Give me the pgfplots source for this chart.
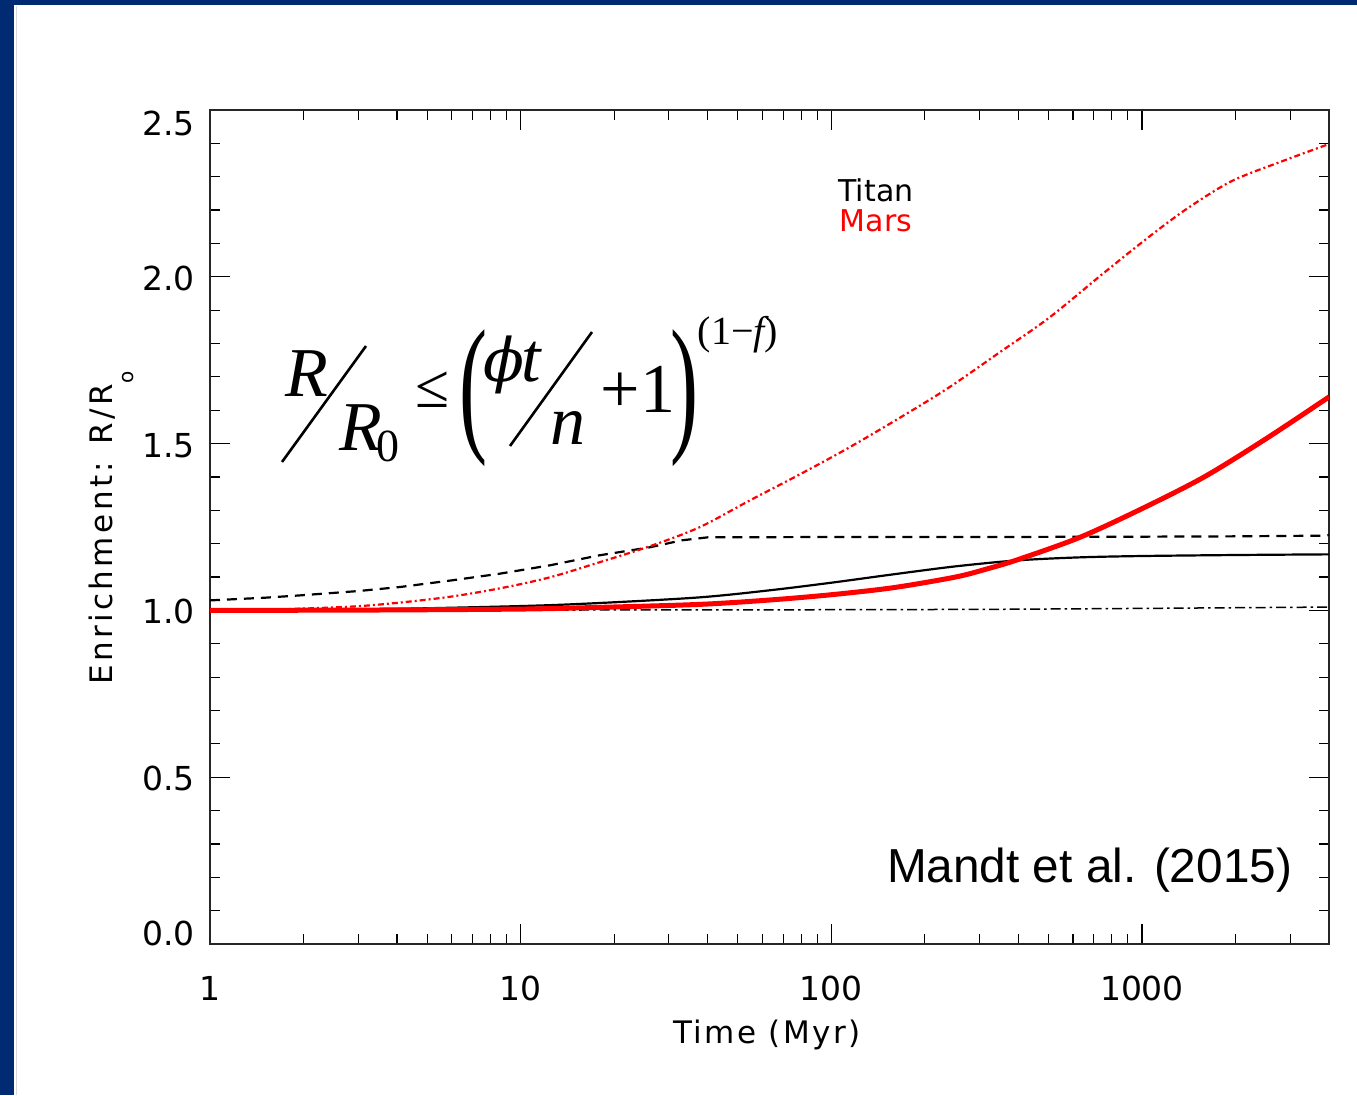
\documentclass[border=0pt]{standalone}
\usepackage{fontspec}
\setmainfont{DejaVu Sans}
\newfontfamily\timesfont{Liberation Serif}
\newfontfamily\arialfont{Liberation Sans}
\newfontfamily\greekfont{DejaVu Serif}
\newfontfamily\idlwide{DejaVu Sans}[LetterSpace=8]
\newfontfamily\idlwider{DejaVu Sans}[LetterSpace=11]
\usepackage{graphicx}
\usepackage{pgfplots}
\pgfplotsset{compat=1.18}
\definecolor{slideblue}{RGB}{0,42,114}
\definecolor{idlred}{RGB}{255,0,0}

\begin{document}
\begin{tikzpicture}
% slide background and frame
\fill[white] (0,0) rectangle (1357pt,1095pt);
\fill[slideblue] (0,0) rectangle (14pt,1095pt);
\fill[slideblue] (0,1090pt) rectangle (1357pt,1095pt);
\draw[black!15,line width=1.5pt] (16.5pt,0) -- (16.5pt,1089pt);

\begin{axis}[
  at={(210pt,151pt)}, anchor=south west,
  scale only axis, width=1119pt, height=834pt,
  xmode=log, xmin=1, xmax=4000, ymin=0, ymax=2.5,
  xtick={1,10,100,1000}, xticklabels={1,10,100,1000},
  minor xtick={2,3,4,5,6,7,8,9,20,30,40,50,60,70,80,90,200,300,400,500,600,700,800,900,2000,3000},
  ytick={0,0.5,1,1.5,2,2.5},
  yticklabels={\smash{\raisebox{-1.5pt}{0.0}},\smash{\raisebox{-13.5pt}{0.5}},\smash{\raisebox{-13.5pt}{1.0}},\smash{\raisebox{-13.5pt}{1.5}},\smash{\raisebox{-13.5pt}{2.0}},\smash{\raisebox{-26pt}{2.5}}},
  minor y tick num=4,
  tick align=inside,
  major tick length=20pt, minor tick length=10pt,
  every tick/.style={black, line width=1.2pt},
  axis line style={black!85, line width=1.6pt},
  ticklabel style={font=\fontsize{33}{36}\selectfont},
  xticklabel style={inner sep=0pt, anchor=north, yshift=-32pt},
  yticklabel style={inner sep=0pt, anchor=east, xshift=-15pt},
  clip=true,
]
% Titan, lower bound
\addplot[black, line width=1.5pt, dash pattern=on 10pt off 4pt on 2.5pt off 4pt] coordinates {
  (1,1.000) (10,1.001) (100,1.002) (300,1.003) (700,1.005) (1000,1.006) (2000,1.008) (4000,1.010)
};
% Titan, nominal
\addplot[black, line width=2.2pt, smooth, tension=0.5] coordinates {
  (1,1.000) (3.16,1.003) (10,1.013) (17.8,1.022) (37.6,1.039) (63,1.060) (100,1.083)
  (158,1.108) (251,1.132) (398,1.150) (631,1.159) (1000,1.163) (2000,1.166) (4000,1.168)
};
% Titan, upper bound
\addplot[black, line width=2.2pt, dash pattern=on 10pt off 7pt] coordinates {
  (1,1.030) (1.5,1.038) (1.95,1.045) (3,1.058) (4.08,1.070) (6,1.090) (8.56,1.110)
  (12.4,1.135) (17.9,1.165) (26,1.189) (33,1.210) (40,1.219) (100,1.220) (300,1.220)
  (1000,1.221) (2000,1.222) (3800,1.224) (4000,1.226)
};
% Mars, upper bound
\addplot[idlred, line width=2.2pt, smooth, tension=0.5, dash pattern=on 6pt off 3pt on 2pt off 3pt] coordinates {
  (1,1.000) (1.78,1.004) (3.16,1.014) (5.62,1.038) (8.56,1.066) (12.4,1.099) (17.9,1.144)
  (26,1.192) (37.6,1.249) (54.5,1.329) (80,1.410) (114,1.488) (170,1.583) (239,1.668)
  (350,1.775) (502,1.877) (750,2.010) (1054,2.120) (1400,2.205) (1946,2.287) (2838,2.347)
  (4000,2.398)
};
% Mars, nominal
\addplot[idlred, line width=5pt, smooth, tension=0.5] coordinates {
  (1,1.000) (3.16,1.001) (10,1.004) (17.8,1.009) (37.6,1.018) (63,1.031) (100,1.047)
  (158,1.068) (251,1.100) (316,1.124) (398,1.152) (631,1.219) (1000,1.305) (1585,1.400)
  (2512,1.515) (4000,1.640)
};
\end{axis}

% annotations, placed in a top-left origin frame
\begin{scope}[shift={(0pt,1095pt)}, x=1pt, y=-1pt]
  % enrichment formula
  \node[inner sep=0pt] at (307,374) {\timesfont\itshape\fontsize{70}{80}\selectfont R};
  \node[inner sep=0pt, anchor=base west] at (339,451)
    {\timesfont\itshape\fontsize{70}{80}\selectfont R\kern-5pt\raisebox{-10.5pt}{\upshape\fontsize{46}{50}\selectfont 0}};
  \draw[line width=2.6pt] (282,462) -- (366,346);
  \node[inner sep=0pt] at (433,390) {\timesfont\fontsize{62}{70}\selectfont ≤};
  \node[inner sep=0pt] at (473,398) {\resizebox*{28pt}{137pt}{\timesfont (}};
  \node[inner sep=0pt, anchor=base west] at (483,382)
    {{\greekfont\itshape\fontsize{60}{70}\selectfont ϕ}\kern-3pt{\timesfont\itshape\fontsize{70}{80}\selectfont t}};
  \draw[line width=2.6pt] (510,446) -- (592,332);
  \node[inner sep=0pt] at (568,428) {\timesfont\itshape\fontsize{70}{80}\selectfont n};
  \node[inner sep=0pt] at (638,389) {\timesfont\fontsize{70}{80}\selectfont +1};
  \node[inner sep=0pt] at (684,398) {\resizebox*{28pt}{137pt}{\timesfont )}};
  \node[inner sep=0pt] at (738,335) {\timesfont\fontsize{40}{44}\selectfont (1−{\itshape f})};
  % legend
  \node[inner sep=0pt] at (876,190) {\fontsize{30}{34}\selectfont Titan};
  \node[inner sep=0pt, text=idlred] at (876,221) {\fontsize{30}{34}\selectfont Mars};
  % axis titles
  \node[anchor=base, inner sep=0pt] at (767,1043) {\idlwide\fontsize{31}{34}\selectfont Time (Myr)};
  \node[rotate=90, anchor=base west, inner sep=0pt] at (112,685)
    {\idlwider\fontsize{31}{34}\selectfont Enrichment: R/R\raisebox{-21pt}{\fontsize{20}{22}\selectfont o}};
  % reference
  \node[anchor=base west, inner sep=0pt] at (887,882) {\arialfont\fontsize{47.7}{52}\selectfont Mandt et al. (2015)};
\end{scope}
\end{tikzpicture}
\end{document}
